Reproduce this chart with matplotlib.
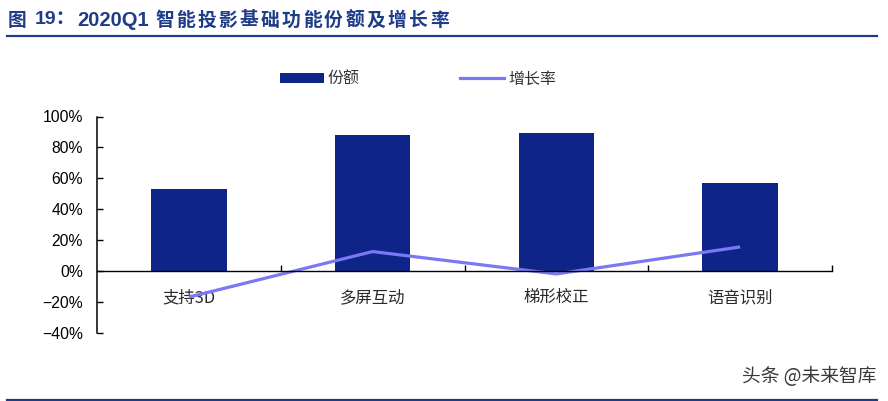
import matplotlib
matplotlib.use("Agg")
import matplotlib.pyplot as plt
from matplotlib.patches import Patch
from matplotlib.lines import Line2D
from matplotlib.ticker import PercentFormatter

plt.rcParams['font.family'] = ['Liberation Sans', 'Noto Sans CJK SC', 'DejaVu Sans']

categories = ["支持3D", "多屏互动", "梯形校正", "语音识别"]
share = [53, 88, 89, 57]          # 份额 (%)
growth = [-17, 12.5, -2, 15.5]    # 增长率 (%)
y_ticks = [-40, -20, 0, 20, 40, 60, 80, 100]

title_prefix = ["图", "19：", "2020Q1"]
title_main = "智能投影基础功能份额及增长率"
legend_labels = ["份额", "增长率"]
watermark = "头条 @未来智库"

BAR = '#0F2489'
LINE = '#7A78F2'
TITLE_C = '#1F3C88'
CJK = ['Noto Sans CJK SC', 'DejaVu Sans']

W, H = 888, 401
fig = plt.figure(figsize=(W / 100, H / 100), dpi=100)

def fx(px):
    return px / W

def fy(py):
    return 1 - py / H

ax = fig.add_axes([fx(97), fy(332.6), fx(832) - fx(97), fy(116.5) - fy(332.6)])
x = list(range(len(categories)))
ax.bar(x, share, width=0.41, color=BAR, zorder=2)
ax.plot(x, growth, color=LINE, lw=2.3, zorder=3, solid_capstyle='butt')

ax.set_xlim(-0.5, len(categories) - 0.5)
ax.set_ylim(-40, 100)
ax.set_yticks(y_ticks)
ax.yaxis.set_major_formatter(PercentFormatter(decimals=0))
ax.tick_params(axis='y', direction='in', length=4, width=1, labelsize=11.3, pad=10, colors='black')

ax.spines['top'].set_visible(False)
ax.spines['right'].set_visible(False)
ax.spines['left'].set_linewidth(1.1)
ax.spines['bottom'].set_position(('data', 0))
ax.spines['bottom'].set_linewidth(1.0)
ax.spines['bottom'].set_zorder(4)

ax.set_xticks([i + 0.5 for i in x])
ax.set_xticklabels([])
ax.set_xticks(x, minor=True)
ax.set_xticklabels(categories, minor=True, family=CJK, fontsize=11.8, color='#2a2a2a')
ax.tick_params(axis='x', which='major', direction='in', length=4, width=1)
ax.tick_params(axis='x', which='minor', length=0, pad=13)

# legend
handles = [Patch(facecolor=BAR, edgecolor='none'), Line2D([0], [0], color=LINE, lw=2.3)]
leg = fig.legend(handles, legend_labels, loc='center', bbox_to_anchor=(fx(418), fy(79)),
                 ncol=2, frameon=False, prop={'family': CJK, 'size': 11.5},
                 handlelength=2.75, handleheight=0.6, handletextpad=0.25,
                 columnspacing=6.3, borderpad=0, borderaxespad=0)
for t in leg.get_texts():
    t.set_color('#333333')

# title
ty = fy(20)
fig.text(fx(8), ty, title_prefix[0], family=CJK, fontsize=13.5, fontweight='bold',
         color=TITLE_C, va='center', ha='left')
fig.text(fx(35), ty, title_prefix[1], family=['Liberation Sans'] + CJK, fontsize=14,
         fontweight='bold', color=TITLE_C, va='center', ha='left')
fig.text(fx(77), ty, title_prefix[2], family=['Liberation Sans'] + CJK, fontsize=14.5,
         fontweight='bold', color=TITLE_C, va='center', ha='left')
pitch = (451 - 155) / len(title_main)
for i, ch in enumerate(title_main):
    fig.text(fx(155 + i * pitch), ty, ch, family=CJK, fontsize=13.5, fontweight='bold',
             color=TITLE_C, va='center', ha='left')

fig.add_artist(Line2D([fx(7), fx(877)], [fy(35.5), fy(35.5)], color=TITLE_C, lw=1.6))
fig.add_artist(Line2D([fx(7), fx(877)], [fy(399.5), fy(399.5)], color=TITLE_C, lw=1.6))

fig.text(fx(876), fy(377), watermark, family=CJK, fontsize=13.5, color='#3a3a3a',
         va='center', ha='right')

fig.savefig("out.png", dpi=100)
